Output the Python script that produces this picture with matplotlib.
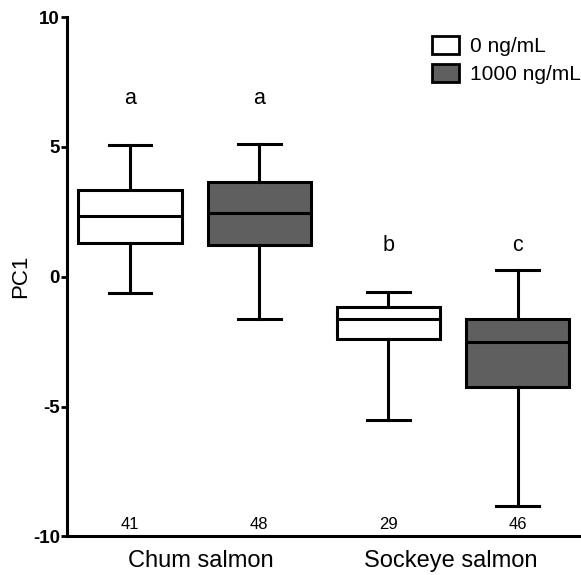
import matplotlib.pyplot as plt
from matplotlib.patches import Patch

plt.rcParams['font.family'] = ['Liberation Sans', 'DejaVu Sans']

groups = ['Chum salmon', 'Sockeye salmon']
doses = ['0 ng/mL', '1000 ng/mL']

# box stats: chum 0, chum 1000, sockeye 0, sockeye 1000
whislo = [-0.64, -1.61, -5.52, -8.81]
q1 = [1.30, 1.21, -2.41, -4.25]
med = [2.32, 2.44, -1.61, -2.50]
q3 = [3.34, 3.65, -1.15, -1.63]
whishi = [5.07, 5.11, -0.59, 0.26]
counts = [41, 48, 29, 46]
letters = ['a', 'a', 'b', 'c']
letter_y = [6.85, 6.85, 1.22, 1.22]

fills = ['white', '#5f5f5f', 'white', '#5f5f5f']

stats = []
for i in range(4):
    stats.append({'whislo': whislo[i], 'q1': q1[i], 'med': med[i],
                  'q3': q3[i], 'whishi': whishi[i], 'fliers': []})

fig = plt.figure(figsize=(5.81, 5.75), dpi=100)
ax = fig.add_axes([0.1148, 0.0671, 0.8852, 0.9033])

lw = 2.2
bp = ax.bxp(stats, positions=range(4), widths=0.8, patch_artist=True,
            showfliers=False,
            boxprops=dict(linewidth=lw, edgecolor='black'),
            medianprops=dict(linewidth=lw, color='black'),
            whiskerprops=dict(linewidth=lw, color='black'),
            capprops=dict(linewidth=lw, color='black'),
            capwidths=0.33)
for patch, c in zip(bp['boxes'], fills):
    patch.set_facecolor(c)

for i in range(4):
    ax.text(i, letter_y[i], letters[i], ha='center', va='center', fontsize=15.5)
    ax.text(i, -9.55, str(counts[i]), ha='center', va='center', fontsize=12)

ax.set_xlim(-0.49, 3.49)
ax.set_ylim(-10, 10)
ax.set_yticks([-10, -5, 0, 5, 10])
ax.set_yticklabels(['-10', '-5', '0', '5', '10'], fontweight='bold', fontsize=13.5)
ax.set_xticks([0.55, 2.48])
ax.set_xticklabels(groups, fontsize=17)
ax.tick_params(axis='x', length=0, pad=10)
ax.tick_params(axis='y', length=4, width=2, pad=1)
ax.set_ylabel('PC1', fontsize=16)
ax.yaxis.set_label_coords(-0.07, 0.5)

for s in ['top', 'right']:
    ax.spines[s].set_visible(False)
for s in ['left', 'bottom']:
    ax.spines[s].set_linewidth(2.2)

handles = [Patch(facecolor=fills[0], edgecolor='black', linewidth=2, label=doses[0]),
           Patch(facecolor=fills[1], edgecolor='black', linewidth=2, label=doses[1])]
ax.legend(handles=handles, loc='upper left', bbox_to_anchor=(0.743, 0.9374),
          bbox_transform=fig.transFigure, frameon=False, fontsize=15,
          handlelength=1.3, handleheight=0.93, handletextpad=0.55,
          labelspacing=0.4, borderpad=0, borderaxespad=0)

fig.savefig('out.png', dpi=100)
